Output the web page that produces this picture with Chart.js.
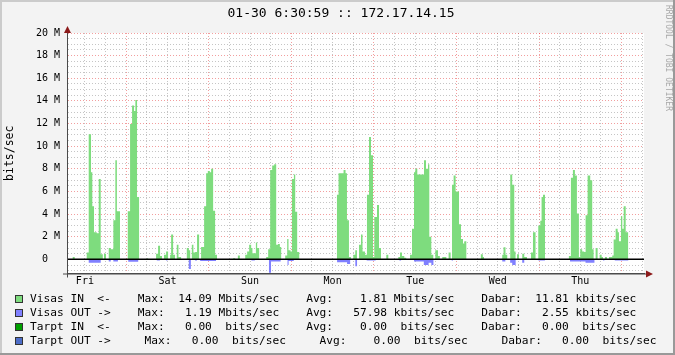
<!DOCTYPE html>
<html>
<head>
<meta charset="utf-8">
<title>01-30 6:30:59 :: 172.17.14.15</title>
<script src="https://cdn.jsdelivr.net/npm/chart.js@4.4.1/dist/chart.umd.min.js"></script>
<style>
  html, body { margin: 0; padding: 0; background: #f3f3f3; }
  #chart { display: block; }
</style>
</head>
<body>
<canvas id="chart" width="675" height="355"></canvas>
<script>
/* rrdtool style weekly traffic graph, values in Mbits/sec */

const graphTitle = '01-30 6:30:59 :: 172.17.14.15';
const dayNames = ['Fri', 'Sat', 'Sun', 'Mon', 'Tue', 'Wed', 'Thu'];

/* hours counted from Fri 00:00, each value holds until the next mark */
const inHours = [
    6.8, 8.46, 9.04, 12.53, 13.11, 13.78, 14.16, 14.65, 15.44, 16.02, 16.6, 17.2, 17.56, 18.14,
    18.93, 19.51, 20.27, 20.85, 21.3, 22.2,
    24.46, 25.13, 25.71, 26.29, 26.67, 27.16, 27.75, 30.07, 30.36, 32.69, 33.27, 33.85, 34.4,
    35.0, 35.6, 36.18, 36.77, 37.06, 37.64, 38.2, 38.7, 39.2, 39.96, 41.62, 42.2, 42.6, 43.08,
    43.54, 44.04, 44.6, 45.2, 45.77, 46.65, 47.24,
    47.73, 48.31, 48.69, 49.27, 49.85, 50.4, 55.09, 55.67, 56.46, 57.04, 58.6, 59.16, 59.74,
    60.33, 60.7, 61.7, 62.07, 62.65, 64.69, 65.27, 65.85, 66.44, 67.02, 67.6, 68.1, 68.67,
    69.05, 70.22, 70.8, 71.18, 71.76,
    72.17, 72.75, 73.13, 73.7, 74.3,
    85.26, 85.72, 87.18, 87.76, 88.17, 88.75, 89.33, 90.0, 90.58, 91.07, 91.66, 92.24, 92.7,
    93.4, 93.98, 94.57, 95.15, 95.73, 96.11, 96.9, 97.48, 98.06, 99.6, 100.18, 103.09, 103.58,
    104.17, 104.83, 105.4, 106.49, 107.07, 107.65,
    108.03, 108.61, 110.56, 111.14, 111.72, 112.1, 112.68, 113.26, 113.84, 114.63, 115.16,
    115.88, 117.05, 117.71, 118.3, 118.7, 119.17, 119.75,
    120.74, 121.32, 121.9, 122.28, 122.86,
    127.08, 127.66, 128.0, 133.3, 133.67, 134.25, 134.75, 135.62, 136.2, 136.79, 137.17,
    137.58, 138.16, 139.12, 139.7, 140.48, 141.65, 142.23, 142.98, 143.77,
    144.35, 144.73, 145.14, 145.72,
    152.67, 153.26, 153.84, 154.42, 155.0, 155.58, 155.96, 156.54, 157.12, 157.53, 158.11,
    158.87, 159.45, 159.86, 160.44, 161.02, 161.6, 162.19, 162.57, 163.15, 163.73, 164.31,
    165.27, 165.68, 166.26, 166.84, 167.22, 167.8,
    168.19, 168.6, 169.18, 169.94
];
const inValues = [
    0, 0.2, 0, 0.6, 11.06, 7.7, 4.7, 2.4, 2.3, 7.1, 0.45, 0, 0.5, 0,
    1.0, 0.9, 3.45, 8.76, 4.25, 0,
    4.25, 11.95, 13.6, 13.1, 14.07, 5.5, 0, 0.1, 0, 0.5, 1.2, 0.3, 0,
    0.4, 0.7, 0, 0.4, 2.2, 0.4, 0, 1.3, 0.2, 0, 1.0, 0.8, 0, 1.3,
    0.6, 0.65, 2.2, 0, 1.1, 4.7, 7.6,
    7.8, 7.7, 8.0, 4.3, 0.4, 0, 0.1, 0, 0.35, 0, 0.4, 0.7, 1.3,
    1.0, 0.55, 1.5, 1.0, 0, 0.2, 0.9, 7.9, 8.3, 8.4, 1.3, 1.35, 1.1,
    0, 0.35, 1.8, 0.8, 0.7,
    7.1, 7.5, 4.2, 0.65, 0,
    5.7, 7.6, 7.9, 7.6, 3.45, 0.2, 0, 0.4, 0.8, 0, 1.3, 2.2, 0.7,
    0.4, 5.7, 10.8, 9.2, 0.2, 3.75, 4.8, 1.0, 0, 0.4, 0, 0.2, 0.6,
    0.3, 0.15, 0, 0.4, 2.7, 7.7,
    8.0, 7.5, 8.76, 8.0, 8.4, 2.0, 0.4, 0, 0.8, 0.3, 0,
    0.2, 0, 0.6, 0, 6.6, 7.4, 6.0,
    3.1, 1.8, 1.4, 1.6, 0,
    0.44, 0.2, 0, 0.4, 1.06, 0.4, 0, 7.5, 6.6, 0.7, 0,
    0.44, 0, 0.5, 0.2, 0, 0.6, 2.4, 0, 3.0,
    3.4, 5.5, 5.7, 0,
    0.3, 7.2, 7.9, 7.4, 4.05, 0.2, 0.9, 0.7, 0.65, 3.9, 7.4,
    7.0, 0.9, 0, 1.0, 0, 0.4, 0.2, 0, 0.2, 0, 0.2,
    0.35, 1.75, 2.7, 2.4, 1.6, 3.8,
    2.7, 4.7, 2.4, 0
];

/* outgoing traffic is drawn below the zero line */
const outHours = [
    6.8, 13.11, 16.6, 18.93, 19.51, 20.27, 21.6,
    24.6, 27.5, 32.9, 33.8, 35.6, 36.0, 42.2, 42.8, 44.0, 44.6, 45.5,
    50.1, 60.4, 61.4, 65.5, 66.1, 68.9, 70.9, 71.2,
    72.7, 85.3, 88.2, 89.1, 90.6, 91.1, 93.9, 96.5, 103.4, 103.9, 107.65,
    110.5, 111.9, 112.7, 113.3, 118.6, 119.0,
    133.3, 134.2, 135.6, 136.2, 137.2, 139.1, 139.7, 143.8,
    145.7, 153.0, 157.5, 160.1, 162.6, 163.0, 166.0, 170.0
];
const outValues = [
    0, -0.3, 0, -0.2, 0, -0.2, 0,
    -0.22, 0, -0.1, 0, -0.1, 0, -0.85, 0, -0.1, 0, -0.15,
    0, -0.1, 0, -1.19, -0.2, 0, -0.5, -0.15,
    0, -0.25, -0.4, 0, -0.6, 0, -0.1, 0, -0.1, 0, -0.2,
    -0.5, -0.3, -0.5, 0, -0.1, 0,
    -0.2, 0, -0.3, -0.5, 0, -0.3, 0, -0.1,
    0, -0.2, -0.3, 0, -0.1, 0, -0.1, 0
];

const legendColors = ['#7edc7e', '#8080ff', '#00a000', '#4d6dc8'];
const legendRows = [
    'Visas IN  <-    Max:  14.09 Mbits/sec    Avg:    1.81 Mbits/sec    Dabar:  11.81 kbits/sec',
    'Visas OUT ->    Max:   1.19 Mbits/sec    Avg:   57.98 kbits/sec    Dabar:   2.55 kbits/sec',
    'Tarpt IN  <-    Max:   0.00  bits/sec    Avg:    0.00  bits/sec    Dabar:   0.00  bits/sec',
    'Tarpt OUT ->     Max:   0.00  bits/sec     Avg:    0.00  bits/sec     Dabar:   0.00  bits/sec'
];

const monoFont = '"DejaVu Sans Mono", "Liberation Mono", monospace';
const gridMinor = 'rgba(140, 140, 140, 0.5)';
const gridMajor = 'rgba(220, 0, 0, 0.38)';
const axisColor = '#4a4a4a';
const arrowColor = '#8c1a1a';

function toPoints(hours, values) {
    return hours.map((h, i) => ({ x: h, y: values[i] }));
}

/* page background, 3d frame, title, watermark, axis arrows and legend */
const rrdFrame = {
    id: 'rrdFrame',
    beforeDraw(chart) {
        const ctx = chart.ctx;
        const a = chart.chartArea;
        ctx.save();
        ctx.fillStyle = '#f3f3f3';
        ctx.fillRect(0, 0, chart.width, chart.height);
        ctx.fillStyle = '#cbcbcb';
        ctx.fillRect(0, 0, chart.width, 2);
        ctx.fillRect(0, 0, 2, chart.height);
        ctx.fillStyle = '#999999';
        ctx.fillRect(0, chart.height - 2, chart.width, 2);
        ctx.fillRect(chart.width - 2, 0, 2, chart.height);
        ctx.fillStyle = '#ffffff';
        ctx.fillRect(a.left, a.top, a.right - a.left, a.bottom - a.top);
        ctx.restore();
    },
    afterDraw(chart) {
        const ctx = chart.ctx;
        const a = chart.chartArea;
        ctx.save();

        /* axis lines reach a little past the plot, ending in arrows */
        ctx.strokeStyle = axisColor;
        ctx.lineWidth = 1;
        ctx.beginPath();
        ctx.moveTo(a.left - 4, a.bottom + 0.5);
        ctx.lineTo(a.right + 6, a.bottom + 0.5);
        ctx.moveTo(a.left + 0.5, a.bottom + 4);
        ctx.lineTo(a.left + 0.5, a.top - 4);
        ctx.stroke();
        ctx.fillStyle = arrowColor;
        ctx.beginPath();
        ctx.moveTo(a.right + 9, a.bottom + 0.5);
        ctx.lineTo(a.right + 2, a.bottom - 3);
        ctx.lineTo(a.right + 2, a.bottom + 4);
        ctx.closePath();
        ctx.fill();
        ctx.beginPath();
        ctx.moveTo(a.left + 0.5, a.top - 7);
        ctx.lineTo(a.left - 3, a.top);
        ctx.lineTo(a.left + 4, a.top);
        ctx.closePath();
        ctx.fill();

        ctx.fillStyle = '#000';
        ctx.textBaseline = 'middle';
        ctx.textAlign = 'center';
        ctx.font = '13px ' + monoFont;
        ctx.fillText(graphTitle, 341, 14);

        ctx.textAlign = 'left';
        ctx.font = '11.2px ' + monoFont;
        legendRows.forEach((row, i) => {
            const y = 299 + i * 14;
            ctx.fillStyle = legendColors[i];
            ctx.fillRect(15, y - 4, 8, 8);
            ctx.strokeStyle = '#333';
            ctx.strokeRect(15.5, y - 3.5, 7, 7);
            ctx.fillStyle = '#000';
            ctx.fillText(row, 30, y);
        });

        ctx.translate(668, 5);
        ctx.rotate(Math.PI / 2);
        ctx.fillStyle = '#a8a8a8';
        ctx.font = '8px ' + monoFont;
        ctx.fillText('RRDTOOL / TOBI OETIKER', 0, 0);
        ctx.restore();
    }
};

new Chart(document.getElementById('chart'), {
    type: 'line',
    data: {
        datasets: [
            {
                label: 'zero',
                data: [{ x: 6.8, y: 0 }, { x: 174.5, y: 0 }],
                borderColor: '#000',
                borderWidth: 1.5,
                pointRadius: 0,
                fill: false,
                order: 0
            },
            {
                label: 'Visas IN',
                data: toPoints(inHours, inValues),
                stepped: true,
                fill: 'origin',
                backgroundColor: legendColors[0],
                borderColor: 'rgba(0,0,0,0)',
                borderWidth: 0,
                pointRadius: 0,
                order: 1
            },
            {
                label: 'Visas OUT',
                data: toPoints(outHours, outValues),
                stepped: true,
                fill: 'origin',
                backgroundColor: legendColors[1],
                borderColor: 'rgba(0,0,0,0)',
                borderWidth: 0,
                pointRadius: 0,
                order: 2
            }
        ]
    },
    options: {
        responsive: false,
        devicePixelRatio: 1,
        animation: false,
        events: [],
        layout: { padding: { left: 0, top: 33, right: 31, bottom: 61.5 } },
        plugins: {
            legend: { display: false },
            tooltip: { enabled: false }
        },
        scales: {
            x: {
                type: 'linear',
                min: 6.8,
                max: 174.5,
                afterBuildTicks: (axis) => {
                    const ticks = [];
                    for (let h = 12; h <= 174; h += 6) ticks.push({ value: h });
                    axis.ticks = ticks;
                },
                afterFit: (axis) => { axis.height = 20; },
                ticks: {
                    autoSkip: false,
                    maxRotation: 0,
                    padding: 2,
                    color: '#000',
                    font: { family: monoFont, size: 10 },
                    callback: (v) => ((v - 12) % 24 === 0 ? dayNames[(v - 12) / 24] : '')
                },
                grid: {
                    drawTicks: false,
                    lineWidth: 1,
                    color: (c) => (c.tick && c.tick.value % 24 === 0 ? gridMajor : gridMinor)
                },
                border: { display: true, color: axisColor, width: 1, dash: [1, 2] }
            },
            y: {
                min: -1.25,
                max: 20,
                afterBuildTicks: (axis) => {
                    const ticks = [];
                    for (let v = -1; v <= 20; v += 0.5) ticks.push({ value: v });
                    axis.ticks = ticks;
                },
                afterFit: (axis) => { axis.width = 67; },
                ticks: {
                    autoSkip: false,
                    padding: 7,
                    color: '#000',
                    font: { family: monoFont, size: 10 },
                    callback: (v) => (v >= 0 && v % 2 === 0 ? (v === 0 ? '0  ' : v + ' M') : '')
                },
                grid: {
                    drawTicks: false,
                    lineWidth: 1,
                    color: (c) => (c.tick && c.tick.value % 2 === 0 ? gridMajor : gridMinor)
                },
                border: { display: true, color: axisColor, width: 1, dash: [1, 2] },
                title: {
                    display: true,
                    text: 'bits/sec',
                    color: '#000',
                    font: { family: monoFont, size: 11.5 },
                    padding: { top: 3, bottom: 0 }
                }
            }
        }
    },
    plugins: [rrdFrame]
});
</script>
</body>
</html>
